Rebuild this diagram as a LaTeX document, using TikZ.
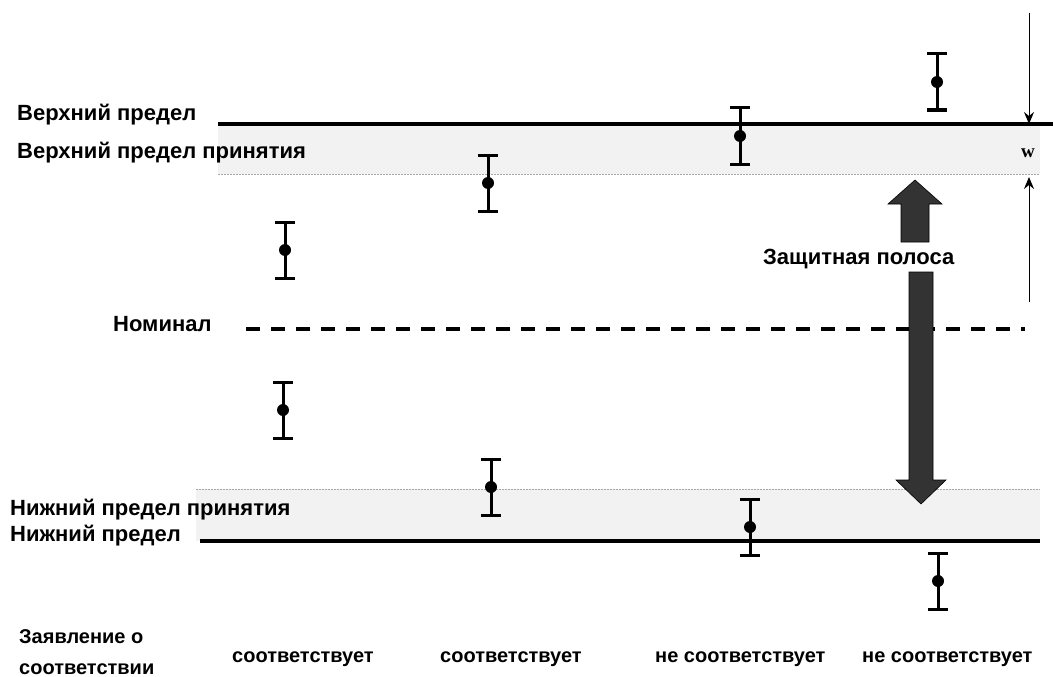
\documentclass[tikz,border=0pt]{standalone}
\usepackage{fontspec}
\setmainfont{Liberation Sans}
\newfontfamily\wfont{Liberation Serif}
\usetikzlibrary{arrows.meta}
\usetikzlibrary{positioning}
\tikzset{
lbl/.style={ % row labels on the left
anchor=base west, inner sep=0pt,
font=\bfseries\fontsize{22}{26}\selectfont},
verdict/.style={ % conformity statements under the bars
anchor=base west, inner sep=0pt,
font=\bfseries\fontsize{20}{24}\selectfont},
limit/.style={line width=3.6pt},
band/.style={fill=gray!10},
bandedge/.style={gray!70, line width=1pt, dash pattern=on 1.5pt off 1.5pt},
nominal/.style={line width=3.4pt, dash pattern=on 14pt off 11pt},
meas/.style={circle, fill=black, inner sep=0pt, minimum size=12pt},
bar/.style={line width=3pt},
guard/.style={fill=black!80, draw=black, line width=0.6pt},
wmark/.style={line width=1pt, -{Stealth[length=12pt,width=10pt,inset=4pt]}}}

\begin{document}
\begin{tikzpicture}[x=1pt, y=-1pt]
	\useasboundingbox (0,0) rectangle (1053,677);
	% acceptance bands
	\fill[band] (218,124) rectangle (1040,174);
	\draw[bandedge] (218,174) -- (1040,174);
	\fill[band] (196,489) rectangle (1040,541);
	\draw[bandedge] (196,489) -- (1040,489);
	% limits and nominal
	\draw[limit] (218,124) -- (1053,124);
	\draw[limit] (200,541) -- (1040,541);
	\draw[nominal] (246,329) -- (1025,329);
	% labels
	\node[lbl] (upl) at (17,121) {Верхний предел};
	\node[lbl] (upacc) at (17,158) {Верхний предел принятия};
	\node[lbl] (nom) at (113,331) {Номинал};
	\node[lbl] (loacc) at (10,515) {Нижний предел принятия};
	\node[lbl] (lol) at (10,541) {Нижний предел};
	\node[verdict] (stmt) at (19,643) {Заявление о};
	\node[verdict] (stmt2) at (19,674) {соответствии};
	% measured values with uncertainty
	\foreach \n/\x/\y in {a/285/250, b/283/410, c/488/183, d/491/487,
		e/740/136, f/750/527, g/937/82, h/938/581} {
		\node[meas] (m\n) at (\x,\y) {};
		\draw[bar] (\x,\y-28) -- (\x,\y+28);
		\draw[bar] (\x-10,\y-28) -- (\x+10,\y-28);
		\draw[bar] (\x-10,\y+28) -- (\x+10,\y+28);
	}
	\node[verdict] (v1) at (232,662) {соответствует};
	\node[verdict] (v2) at (440,662) {соответствует};
	\node[verdict] (v3) at (655,662) {не соответствует};
	\node[verdict] (v4) at (862,662) {не соответствует};
	% guard band arrow
	\node[lbl] (gb) at (763,264) {Защитная полоса};
	\fill[guard] (915,180) -- (942,204) -- (929,204) -- (929,242) -- (901,242)
		-- (901,204) -- (888,204) -- cycle;
	\fill[guard] (909,272) -- (933,272) -- (933,480) -- (946,480) -- (921,504)
		-- (896,480) -- (909,480) -- cycle;
	% band width w
	\coordinate (wtop) at (1029,13);
	\coordinate (wbot) at (1029,302);
	\node[inner sep=0pt, font=\wfont\bfseries\fontsize{19}{21}\selectfont] (w) at (1028,153) {w};
	\draw[wmark] (wtop) -- (1029,124);
	\draw[wmark] (wbot) -- (1029,177);
\end{tikzpicture}
\end{document}
